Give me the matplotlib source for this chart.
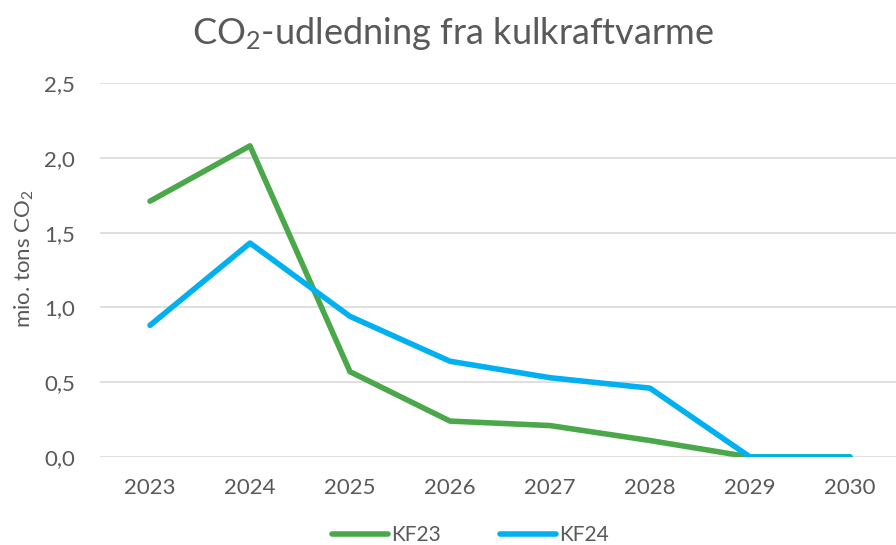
import matplotlib
matplotlib.use('Agg')
import matplotlib.pyplot as plt

years = [2023, 2024, 2025, 2026, 2027, 2028, 2029, 2030]
kf23 = [1.71, 2.08, 0.57, 0.24, 0.21, 0.11, 0.0, 0.0]
kf24 = [0.88, 1.43, 0.94, 0.64, 0.53, 0.46, 0.0, 0.0]
yticks = [0.0, 0.5, 1.0, 1.5, 2.0, 2.5]

plt.rcParams['font.family'] = ['Lato', 'DejaVu Sans']
plt.rcParams['mathtext.fontset'] = 'custom'
plt.rcParams['mathtext.rm'] = 'Lato'
plt.rcParams['mathtext.it'] = 'Lato'
txt = '#595959'

fig = plt.figure(figsize=(8.96, 5.45), dpi=100)
ax = fig.add_axes([0.1116, 0.1615, 0.8884, 0.6862])

ax.plot(years, kf23, color='#4aa84a', lw=4, solid_capstyle='round', label='KF23')
ax.plot(years, kf24, color='#00b0f0', lw=4, solid_capstyle='round', label='KF24')

ax.set_xlim(2022.5, 2030.46)
ax.set_ylim(0, 2.5)
ax.set_yticks(yticks)
ax.set_yticklabels([f'{v:.1f}'.replace('.', ',') for v in yticks])
ax.set_xticks(years)
ax.grid(axis='y', color='#d9d9d9', lw=1.2)
ax.set_axisbelow(True)
for s in ax.spines.values():
    s.set_visible(False)
ax.tick_params(length=0, labelsize=16, labelcolor=txt)
ax.tick_params(axis='x', pad=15)
ax.tick_params(axis='y', pad=18)
ax.set_ylabel('mio. tons CO$_2$', fontsize=16, color=txt)
ax.yaxis.set_label_coords(-0.08, 0.53)

fig.suptitle('CO$_2$-udledning fra kulkraftvarme', fontsize=26, color=txt, y=0.972, x=0.505)

fig.legend(loc='lower center', bbox_to_anchor=(0.525, -0.035), ncol=2, frameon=False,
           fontsize=15, labelcolor=txt, handlelength=2.7, handletextpad=0.15, columnspacing=2.8)

fig.savefig('out.png', dpi=100)
